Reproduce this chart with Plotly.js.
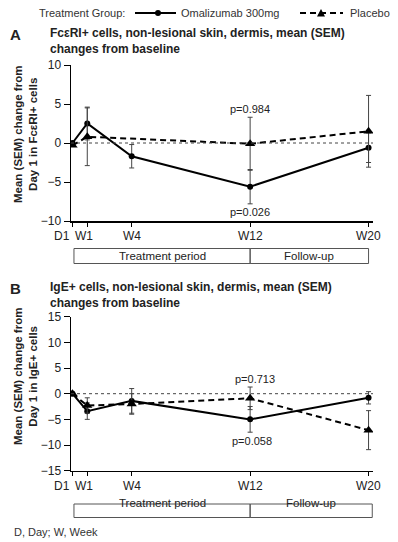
<!DOCTYPE html>
<html>
<head>
<meta charset="utf-8">
<script src="https://cdn.plot.ly/plotly-3.0.1.min.js"></script>
<style>
  html, body { margin: 0; padding: 0; background: #fff; }
  #plot { width: 398px; height: 542px; }
</style>
</head>
<body>
<div id="plot"></div>
<script>
// 時点 (週)
const weeks = [0, 1, 4, 12, 20];
const week_labels = ["D1", "W1", "W4", "W12", "W20"];
const weeks_placebo_a = [0, 1, 12, 20];   // A: プラセボ W4 なし

// A: FcεRI+ cells
const oma_a = [0, 2.5, -1.7, -5.6, -0.6];
const oma_a_sem = [0, 2.1, 1.5, 2.2, 1.9];
const pla_a = [-0.3, 0.8, -0.1, 1.5];
const pla_a_sem = [0, 3.7, 3.4, 4.6];

// B: IgE+ cells
const oma_b = [0, -3.4, -1.4, -5.0, -0.8];
const oma_b_sem = [0, 1.6, 2.4, 2.5, 1.2];
const pla_b = [0, -2.3, -2.0, -0.9, -7.1];
const pla_b_sem = [0, 1.5, 2.0, 2.2, 3.8];

const pvals_a = ["p=0.984", "p=0.026"];
const pvals_b = ["p=0.713", "p=0.058"];

const W = 398, H = 542;
const font = "Liberation Sans, Arial, sans-serif";
const px = v => v / W;          // 横ピクセル -> paper
const py = v => 1 - v / H;      // 縦ピクセル -> paper

function err(arr) {
    return {type: "data", array: arr, visible: true, color: "#444", thickness: 1, width: 2.5};
}

const oma_style = {mode: "lines+markers", line: {color: "#000", width: 2},
    marker: {symbol: "circle", size: 6, color: "#000"}, showlegend: false};
const pla_style = {mode: "lines+markers", line: {color: "#000", width: 2, dash: "6px,4px"},
    marker: {symbol: "triangle-up", size: 9, color: "#000"}, showlegend: false};

const data = [
    Object.assign({x: weeks, y: oma_a, error_y: err(oma_a_sem), xaxis: "x", yaxis: "y",
        name: "Omalizumab 300mg"}, oma_style),
    Object.assign({x: weeks_placebo_a, y: pla_a, error_y: err(pla_a_sem), xaxis: "x", yaxis: "y",
        name: "Placebo"}, pla_style),
    Object.assign({x: weeks, y: oma_b, error_y: err(oma_b_sem), xaxis: "x2", yaxis: "y2",
        name: "Omalizumab 300mg"}, oma_style),
    Object.assign({x: weeks, y: pla_b, error_y: err(pla_b_sem), xaxis: "x2", yaxis: "y2",
        name: "Placebo"}, pla_style),
];

const xrange = [-0.1, 20.3];
function xaxis(anchor) {
    return {
        domain: [px(71), px(373)], range: xrange, anchor: anchor,
        tickvals: weeks, ticks: "outside", ticklen: 4, showticklabels: false,
        tickcolor: "#000", showline: true, linecolor: "#000", linewidth: 1.5,
        showgrid: false, zeroline: false
    };
}
function yaxis(anchor, top, bottom, lim) {
    return {
        domain: [py(bottom), py(top)], range: [-lim, lim], dtick: 5, anchor: anchor,
        ticks: "outside", ticklen: 6, tickcolor: "#000", showline: true,
        linecolor: "#000", linewidth: 1.5, showgrid: false, zeroline: false,
        tickfont: {size: 12, color: "#222"}
    };
}

const shapes = [];
const annotations = [];

// x軸ラベル (D1 と W1 は重ならないよう左へずらす)
const label_shift = [-10, -3, 0, 0, 0];
[["x", 221], ["x2", 470.7]].forEach(([xr, bottom]) => {
    weeks.forEach((w, i) => {
        annotations.push({xref: xr, yref: "paper", x: w, y: py(bottom), yanchor: "top", yshift: -6,
            xshift: label_shift[i], text: week_labels[i], showarrow: false,
            font: {size: 12, color: "#222"}});
    });
});

// ゼロの点線
[["x", "y"], ["x2", "y2"]].forEach(([xr, yr]) => {
    shapes.push({type: "line", xref: xr, yref: yr, x0: xrange[0], x1: xrange[1], y0: 0, y1: 0,
        line: {color: "#444", width: 1, dash: "dot"}});
});

// 期間の箱
function periods(xr, top, bottom, xend) {
    [[0.1, 12, "Treatment period"], [12, xend, "Follow-up"]].forEach(([a, b, t]) => {
        shapes.push({type: "rect", xref: xr, yref: "paper", x0: a, x1: b, y0: py(bottom), y1: py(top),
            line: {color: "#555", width: 1}});
        annotations.push({xref: xr, yref: "paper", x: (a + b) / 2, y: py((top + bottom) / 2),
            text: t, showarrow: false, font: {size: 11.5, color: "#222"}});
    });
}
periods("x", 248.5, 263.5, 20);
periods("x2", 504, 517.5, 20.25);

function label(x, y, text, size, opts) {
    annotations.push(Object.assign({xref: "paper", yref: "paper", x: px(x), y: py(y), text: text,
        showarrow: false, xanchor: "left", yanchor: "middle", align: "left",
        font: {size: size, color: "#222"}}, opts || {}));
}

// 凡例 (手描き)
label(37, 13, "Treatment Group:", 11, {font: {size: 11, color: "#333"}});
label(179, 13, data[0].name, 11, {font: {size: 11, color: "#333"}});
label(348, 13, data[1].name, 11, {font: {size: 11, color: "#333"}});
shapes.push({type: "line", xref: "paper", yref: "paper", x0: px(135), x1: px(176), y0: py(13), y1: py(13),
    line: {color: "#000", width: 2}});
shapes.push({type: "circle", xref: "paper", yref: "paper", x0: px(155), x1: px(161), y0: py(16), y1: py(10),
    fillcolor: "#000", line: {color: "#000", width: 0}});
shapes.push({type: "line", xref: "paper", yref: "paper", x0: px(300), x1: px(343), y0: py(13), y1: py(13),
    line: {color: "#000", width: 2, dash: "6px,4px"}});
shapes.push({type: "path", xref: "paper", yref: "paper",
    path: `M ${px(317)} ${py(16.5)} L ${px(325)} ${py(16.5)} L ${px(321)} ${py(9)} Z`,
    fillcolor: "#000", line: {color: "#000", width: 0}});

label(8, 34, "<b>A</b>", 15);
label(48, 41, "<b>FcεRI+ cells, non-lesional skin, dermis, mean (SEM)<br>changes from baseline</b>", 12);
label(8, 288, "<b>B</b>", 15);
label(48, 294.5, "<b>IgE+ cells, non-lesional skin, dermis, mean (SEM)<br>changes from baseline</b>", 12);
label(12, 531.5, "D, Day; W, Week", 11, {font: {size: 11, color: "#333"}});

label(25, 135, "<b>Mean (SEM) change from<br>Day 1 in FcεRI+ cells</b>", 11.5,
    {textangle: -90, xanchor: "center", align: "center"});
label(25, 377, "<b>Mean (SEM) change from<br>Day 1 in IgE+ cells</b>", 11.5,
    {textangle: -90, xanchor: "center", align: "center"});

// p値
annotations.push({xref: "x", yref: "y", x: 12, y: 4.4, text: pvals_a[0], showarrow: false, font: {size: 11, color: "#222"}});
annotations.push({xref: "x", yref: "y", x: 12, y: -8.9, text: pvals_a[1], showarrow: false, font: {size: 11, color: "#222"}});
annotations.push({xref: "x2", yref: "y2", x: 12.3, y: 2.9, text: pvals_b[0], showarrow: false, font: {size: 11, color: "#222"}});
annotations.push({xref: "x2", yref: "y2", x: 12.1, y: -9.2, text: pvals_b[1], showarrow: false, font: {size: 11, color: "#222"}});

const layout = {
    width: W, height: H,
    margin: {l: 0, r: 0, t: 0, b: 0},
    paper_bgcolor: "#fff", plot_bgcolor: "#fff",
    font: {family: font, color: "#222"},
    showlegend: false,
    xaxis: xaxis("y"),
    yaxis: yaxis("x", 65, 221, 10),
    xaxis2: xaxis("y2"),
    yaxis2: yaxis("x2", 316.7, 470.7, 15),
    shapes: shapes,
    annotations: annotations
};

Plotly.newPlot("plot", data, layout, {displayModeBar: false, staticPlot: true});
</script>
</body>
</html>
